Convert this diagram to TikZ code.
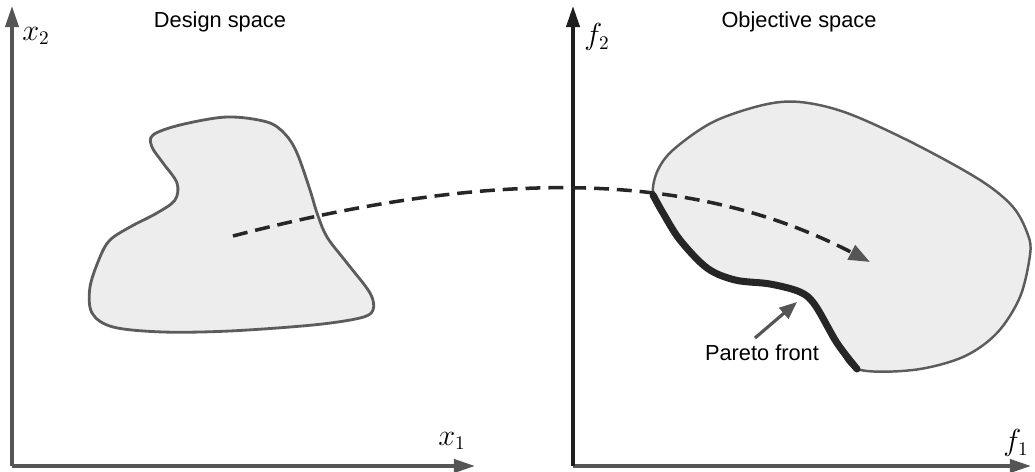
\documentclass[tikz,border=0pt]{standalone}
\usepackage{fontspec}
\newfontfamily\sanslabel{Liberation Sans}
\usepackage{xcolor}
\usetikzlibrary{arrows.meta,positioning}
\definecolor{axGrey}{HTML}{555555}
\definecolor{axDark}{HTML}{1E1E1E}
\definecolor{blobLine}{HTML}{5C5C5C}
\definecolor{blobFill}{HTML}{EDEDED}

\begin{document}
\begin{tikzpicture}[x=0.02cm,y=-0.02cm,
  title/.style={font=\sanslabel\fontsize{12.4}{14}\selectfont,inner sep=0pt},
  axlabel/.style={font=\fontsize{16}{18}\selectfont,inner sep=0pt},
  ax/.style={draw=axGrey,line width=2pt,-{Triangle[length=12pt,width=7.5pt]}},
  region/.style={draw=blobLine,line width=1.6pt,fill=blobFill},
  front/.style={draw=black!85,line width=4pt,line cap=round},
  map/.style={draw=black!85,line width=2pt,dash pattern=on 8.5pt off 4.5pt,
    -{Triangle[length=12pt,width=9pt,color=axGrey]}},
  ptr/.style={draw=axGrey,line width=1.8pt,-{Triangle[length=10pt,width=8pt]}}]

\useasboundingbox (0,0) rectangle (1035,472);

% design space
\coordinate (o1) at (12,466);
\coordinate (x1end) at (475,466);
\coordinate (x2end) at (12,6);
\draw[ax] (o1) -- (x1end);
\draw[ax] (o1) -- (x2end);
\node[title] (dtitle) at (220,22) {Design space};
\node[axlabel] (x2lab) at (36,36) {$x_2$};
\node[axlabel] (x1lab) at (452,441) {$x_1$};

\draw[region] plot[smooth cycle,tension=0.55] coordinates {
  (153,135) (180,125) (227,117) (267,122) (285,134) (297,153) (310,190)
  (317,213) (327,237) (347,263) (370,293) (373,310) (360,318) (313,325)
  (230,331) (163,332) (113,327) (92,313) (90,287) (100,257) (110,240)
  (130,227) (157,213) (175,200) (177,183) (163,163) (152,147)};

% objective space
\coordinate (o2) at (573,466);
\coordinate (f1end) at (1031,466);
\coordinate (f2end) at (573,6);
\draw[ax] (o2) -- (f1end);
\draw[ax,draw=axDark] (o2) -- (f2end);
\node[title] (otitle) at (799,22) {Objective space};
\node[axlabel] (f2lab) at (597,37) {$f_2$};
\node[axlabel] (f1lab) at (1016,443) {$f_1$};

\draw[region,line width=1.4pt] plot[smooth cycle,tension=0.55] coordinates {
  (653,195) (657,172) (673,150) (713,122) (763,105) (800,102) (847,113)
  (913,143) (980,180) (1013,207) (1028,235) (1030,255) (1020,297)
  (997,333) (963,357) (913,370) (857,369) (837,343) (815,305) (800,292)
  (770,284) (735,280) (707,268) (680,240) (663,213)};

\draw[front] plot[smooth,tension=0.55] coordinates {
  (857,369) (837,343) (815,305) (800,292) (770,284) (735,280) (707,268)
  (680,240) (663,213) (653,195)};

% mapping x -> f(x)
\coordinate (xpt) at (233,236);
\coordinate (fpt) at (870,262);
\draw[map] (xpt) .. controls (491,169) and (691,169) .. (fpt);

\node[title] (plab) at (762,353) {Pareto front};
\coordinate (ptrbase) at (755,338);
\coordinate (fronttip) at (797,302);
\draw[ptr] (ptrbase) -- (fronttip);
\end{tikzpicture}
\end{document}
